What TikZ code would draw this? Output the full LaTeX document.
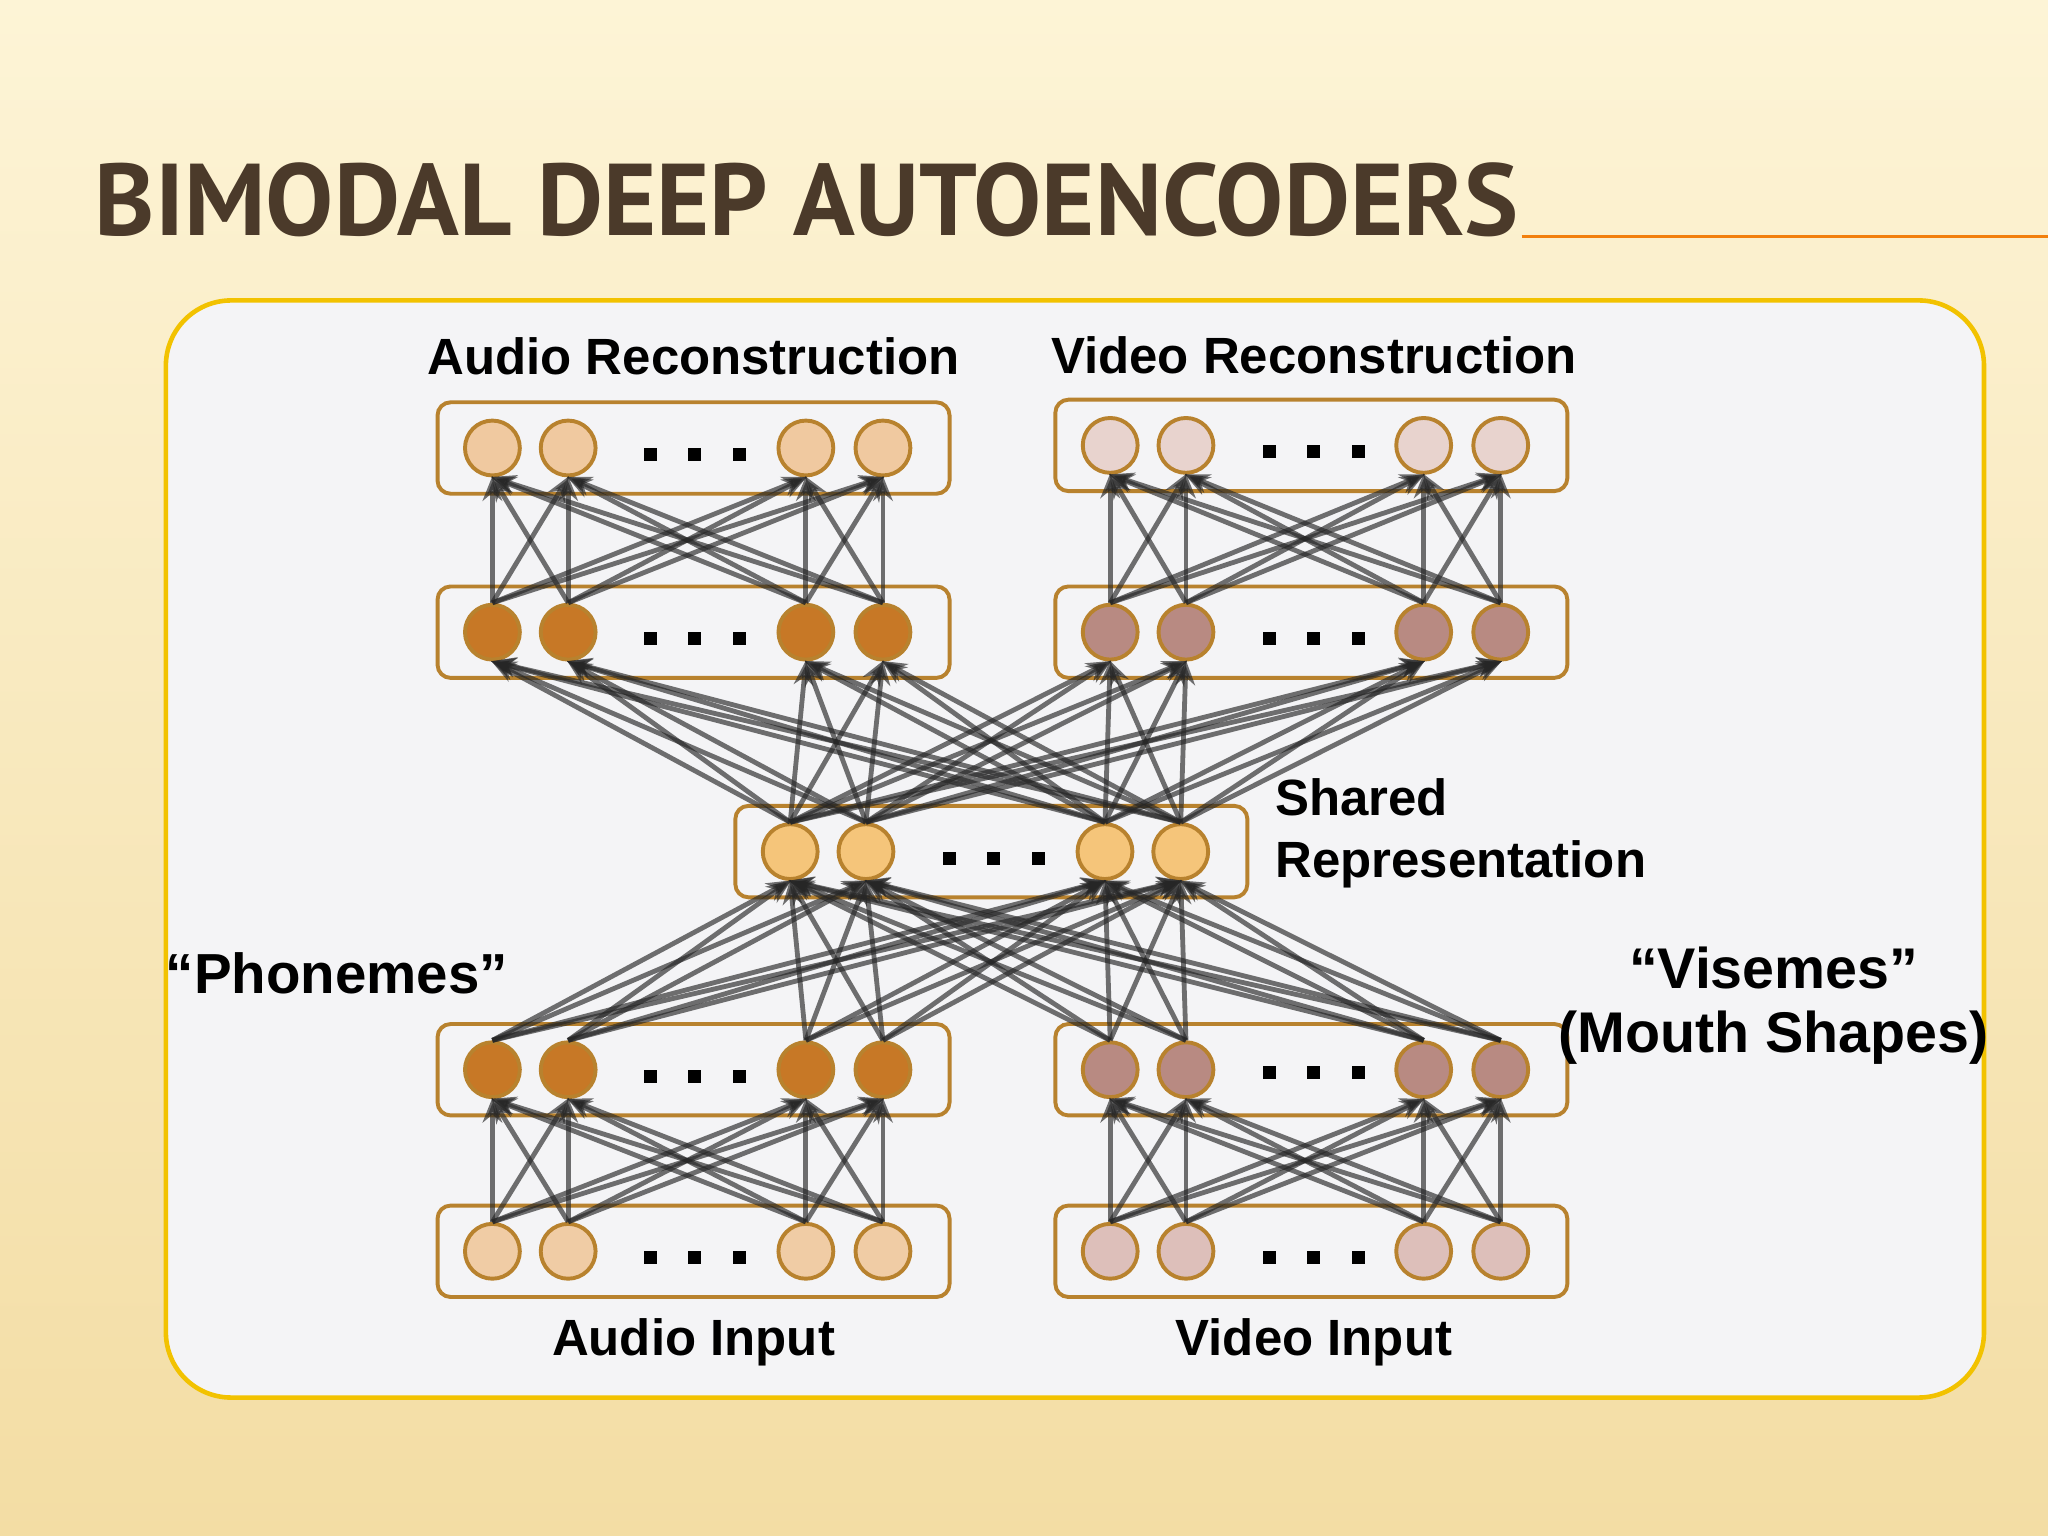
\documentclass[tikz,border=0pt]{standalone}
\usepackage{fontspec}
\setmainfont{Liberation Sans}
\newfontfamily\titlefont{PT Sans}
\usetikzlibrary{arrows.meta,shadings}
\definecolor{bgA}{HTML}{FDF4D6}
\definecolor{bgB}{HTML}{F3DDA4}
\definecolor{frameY}{HTML}{F2C200}
\definecolor{panel}{HTML}{F4F4F6}
\definecolor{boxC}{HTML}{B8822E}
\definecolor{ttl}{HTML}{4B3A2A}
\definecolor{aRec}{HTML}{F0C9A0}
\definecolor{vRec}{HTML}{E8D3CE}
\definecolor{aHid}{HTML}{C77826}
\definecolor{vHid}{HTML}{B88A82}
\definecolor{shr}{HTML}{F5C57A}
\definecolor{aIn}{HTML}{F0CCA5}
\definecolor{vIn}{HTML}{DDBFBA}
\tikzset{
 unit/.style={circle,draw=boxC,line width=0.85pt,minimum size=4.2mm,inner sep=0pt},
 layer/.style={draw=boxC,line width=0.85pt,rounded corners=1mm},
 conn/.style={draw=black!85,opacity=0.65,line width=1.05pt,-{Stealth[length=1.9mm,width=1.5mm]},shorten >=-0.3pt},
 lbl/.style={font=\bfseries\fontsize{11.1}{13}\selectfont},
 dot/.style={fill=black,minimum size=1mm,inner sep=0pt}
}
\begin{document}
\begin{tikzpicture}[x=0.1mm,y=-0.1mm]
\useasboundingbox (0,0) rectangle (1568,1176);
\shade[top color=bgA,bottom color=bgB] (0,0) rectangle (1568,1176);
\node[anchor=base west,inner sep=0pt,text=ttl] (title) at (72,180) {\resizebox{109mm}{!}{\titlefont\bfseries\fontsize{22}{26}\selectfont BIMODAL DEEP AUTOENCODERS}};
\draw[color=orange!80!brown,line width=0.6pt] (1165,181) coordinate (tl1) -- (1568,181) coordinate (tl2);
\draw[fill=panel,draw=frameY,line width=1pt,rounded corners=5mm] (127,230) rectangle (1519,1070);
\def\drawlayer#1#2#3#4#5#6#7#8#9{%
 \draw[layer] (#3-42,#2-35) rectangle (#3+350,#2+35);
 \foreach \x [count=\i] in {#3,#4,#5,#6} \node[unit,fill=#7] (#1\i) at (\x,#2) {};
 \foreach \k in {0,1,2} \node[dot] (#1d\k) at (#8+\k*34,#9) {};
}
\drawlayer{ar}{343}{377}{435}{617}{676}{aRec}{498}{348}
\drawlayer{vr}{341}{850}{908}{1090}{1149}{vRec}{972}{346}
\drawlayer{ah}{484}{377}{435}{617}{676}{aHid}{498}{489}
\drawlayer{vh}{484}{850}{908}{1090}{1149}{vHid}{972}{489}
\drawlayer{sh}{652}{605}{663}{846}{904}{shr}{727}{657}
\drawlayer{ab}{819}{377}{435}{617}{676}{aHid}{498}{824}
\drawlayer{vb}{819}{850}{908}{1090}{1149}{vHid}{972}{821}
\drawlayer{ai}{958}{377}{435}{617}{676}{aIn}{498}{963}
\drawlayer{vi}{958}{850}{908}{1090}{1149}{vIn}{972}{963}
\foreach \i in {1,...,4} \foreach \j in {1,...,4} {
 \draw[conn] (ai\i.north) -- (ab\j.south);
 \draw[conn] (vi\i.north) -- (vb\j.south);
 \draw[conn] (ab\i.north) -- (sh\j.south);
 \draw[conn] (vb\i.north) -- (sh\j.south);
 \draw[conn] (sh\i.north) -- (ah\j.south);
 \draw[conn] (sh\i.north) -- (vh\j.south);
 \draw[conn] (ah\i.north) -- (ar\j.south);
 \draw[conn] (vh\i.north) -- (vr\j.south);
}
\node[lbl] (t1) at (531,273) {Audio Reconstruction};
\node[lbl] (t2) at (1006,272) {Video Reconstruction};
\node[lbl,anchor=west,align=left] (t3) at (964,638) {Shared\\[0.5pt]Representation};
\node[lbl,font=\bfseries\fontsize{12.3}{14}\selectfont] (t4) at (258,745) {“Phonemes”};
\node[lbl,font=\bfseries\fontsize{12.5}{15}\selectfont,align=center] (t5) at (1358,770) {“Visemes”\\[-1pt](Mouth Shapes)};
\node[lbl] (t6) at (531,1028) {Audio Input};
\node[lbl] (t7) at (1006,1028) {Video Input};
\end{tikzpicture}
\end{document}
